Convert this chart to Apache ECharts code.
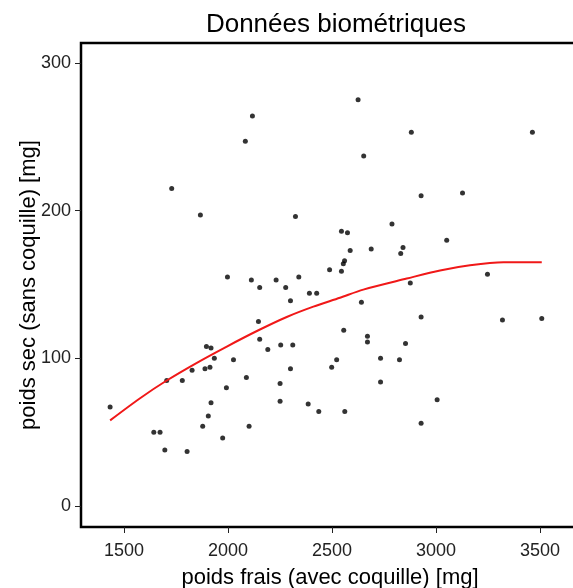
<!DOCTYPE html>
<html>
<head>
<meta charset="utf-8">
<script src="https://cdn.jsdelivr.net/npm/echarts@6/dist/echarts.min.js"></script>
<style>
  html, body { margin: 0; padding: 0; background: #fff; }
  #chart { width: 573px; height: 588px; }
</style>
</head>
<body>
<div id="chart"></div>
<script>
// poids frais / poids sec
var poidsFrais = [2117, 2083, 1729, 1867, 2324, 2488, 1997, 2112, 2231, 2340,
  2625, 2881, 3463, 2652, 2928, 3127, 2788, 2545, 2574, 3051,
  2587, 2688, 2841, 2830, 2560, 2554, 2545, 3247, 2152, 2277,
  2391, 2426, 2300, 2146, 2152, 2191, 2253, 2311, 1896, 1918,
  1934, 1889, 1913, 1827, 2026, 1780, 1705, 1433, 2088, 1992,
  2300, 2250, 2250, 1918, 1905, 1878, 2101, 1974, 2385, 2436,
  1643, 1673, 1696, 1803, 2498, 2522, 2876, 2641, 2928, 3319,
  3508, 2556, 2670, 2670, 2853, 2733, 2824, 2733, 3005, 2561, 2928];
var poidsSec = [264, 247, 215, 197, 196, 160, 155, 153, 153, 155,
  275, 253, 253, 237, 210, 212, 191, 186, 185, 180,
  173, 174, 175, 171, 166, 164, 159, 157, 148, 148,
  144, 144, 139, 125, 113, 106, 109, 109, 108, 107,
  100, 93, 94, 92, 99, 85, 85, 67, 87, 80,
  93, 83, 71, 70, 61, 54, 54, 46, 69, 64,
  50, 50, 38, 37, 94, 99, 151, 138, 128, 126,
  127, 119, 115, 111, 110, 100, 99, 84, 72, 64, 56];

// courbe d'ajustement (rouge)
var courbeX = [1433, 1577, 1705, 1850, 1994, 2146, 2282, 2410, 2538, 2650, 2859, 3019, 3163, 3324, 3508];
var courbeY = [58, 73, 85, 97, 108, 119, 128, 135, 141, 146.5, 154, 159.5, 163, 165, 165];

var xTicks = [1500, 2000, 2500, 3000, 3500];
var yTicks = [0, 100, 200, 300];

var points = poidsFrais.map(function (x, i) { return [x, poidsSec[i]]; });
var courbe = courbeX.map(function (x, i) { return [x, courbeY[i]]; });

var chart = echarts.init(document.getElementById('chart'));
var police = 'Liberation Sans, Arial, sans-serif';
option = {
    animation: false,
    title: {
        text: 'Données biométriques',
        left: 331,
        top: 7,
        textAlign: 'center',
        textStyle: { fontFamily: police, fontSize: 26, fontWeight: 'normal', color: '#000' }
    },
    grid: {
        left: 81,
        top: 43,
        right: -6,
        bottom: 61,
        outerBoundsMode: 'none',
        containLabel: false,
        show: true,
        borderColor: '#000',
        borderWidth: 2.5
    },
    xAxis: {
        type: 'value',
        min: 1293,
        max: 3687,
        name: 'poids frais (avec coquille) [mg]',
        nameLocation: 'middle',
        nameGap: 40,
        nameMoveOverlap: false,
        nameTextStyle: { fontFamily: police, fontSize: 22, color: '#000' },
        axisLine: { show: false, onZero: false },
        axisTick: { show: true, inside: false, length: 6, customValues: xTicks, lineStyle: { color: '#222' } },
        axisLabel: {
            customValues: xTicks, margin: 15, fontFamily: police, fontSize: 18, color: '#222',
            formatter: function (v) { return String(v); }
        },
        splitLine: { show: false }
    },
    yAxis: {
        type: 'value',
        min: -14.2,
        max: 313.5,
        name: 'poids sec (sans coquille) [mg]',
        nameLocation: 'middle',
        nameGap: 41,
        nameMoveOverlap: false,
        nameTextStyle: { fontFamily: police, fontSize: 22, color: '#000' },
        axisLine: { show: false, onZero: false },
        axisTick: { show: true, inside: false, length: 6, customValues: yTicks, lineStyle: { color: '#222' } },
        axisLabel: {
            customValues: yTicks, margin: 10, fontFamily: police, fontSize: 18, color: '#222',
            formatter: function (v) { return String(v); }
        },
        splitLine: { show: false }
    },
    series: [
        {
            type: 'scatter',
            data: points,
            symbol: 'circle',
            symbolSize: 5,
            itemStyle: { color: '#000' }
        },
        {
            type: 'line',
            data: courbe,
            smooth: 0.3,
            showSymbol: false,
            lineStyle: { color: '#f01818', width: 2 }
        }
    ]
};
chart.setOption(option);
</script>
</body>
</html>
